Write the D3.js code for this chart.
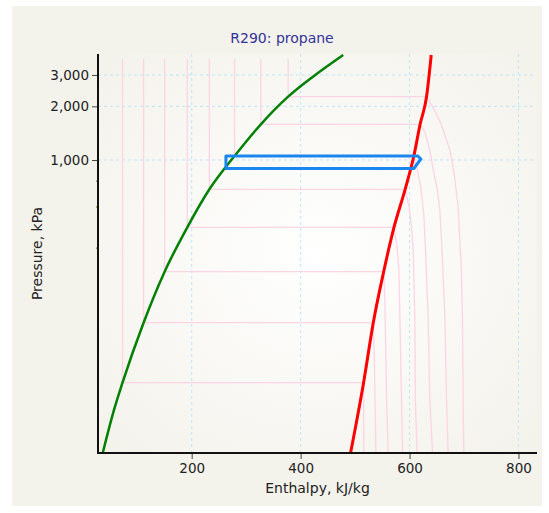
<!DOCTYPE html>
<html>
<head>
<meta charset="utf-8">
<script src="https://cdn.jsdelivr.net/npm/d3@7"></script>
<style>
  body { margin: 0; background: #fff; }
  svg { font-family: "DejaVu Sans", Verdana, sans-serif; }
</style>
</head>
<body>
<svg id="chart" width="549" height="513"></svg>
<script>
// saturated liquid line (enthalpy kJ/kg, pressure kPa)
const liquidH = [36.7, 57.4, 73.0, 111.7, 150.3, 191.9, 232.5, 278.7, 327.0, 377.1, 424.4, 478.2];
const liquidP = [22.7, 39.6, 56.3, 122.2, 236.2, 419.0, 684.9, 1053, 1586, 2266, 2960, 3883];

// saturated vapour line
const vaporH = [491.7, 515.6, 533.4, 552.5, 571.4, 591.9, 607.9, 619.4, 631.2, 639.8];
const vaporP = [22.7, 56.3, 122.2, 236.2, 419.0, 684.9, 1053, 1586, 2266, 3883];

// refrigeration cycle
const cycleH = [262.9, 615.2, 620.7, 607.9, 262.9];
const cycleP = [1053, 1053, 1013, 896, 896];

// isotherms: liquid part, saturation pressure, superheated part
const isoTopP = 3700;
const isoLiqH = [73.0, 111.7, 150.3, 191.9, 232.5, 278.7, 327.0, 377.1];
const isoSatP = [56.3, 122.2, 236.2, 419.0, 684.9, 1053, 1586, 2266];
const superH = [
  [515.6, 516.1],
  [533.4, 535.4, 538.2],
  [552.5, 554.7, 557.8, 560.7],
  [571.4, 576.7, 580.4, 582.2, 585.3, 587.2],
  [591.9, 598.7, 603.3, 606.6, 609.7, 610.6, 614.0],
  [607.9, 615.2, 620.7, 626.2, 629.0, 634.1, 637.2, 642.2],
  [619.4, 628.1, 637.2, 644.6, 651.0, 655.6, 658.7, 662.0, 664.8, 667.9, 670.8],
  [631.2, 642.7, 657.4, 667.9, 673.9, 682.2, 689.2, 692.3, 695.0, 697.2, 698.3, 699.6]
];
const superP = [
  [56.3, 22.7],
  [122.2, 75.5, 22.7],
  [236.2, 163.8, 45, 22.7],
  [419.0, 333.4, 241.3, 132, 45, 22.7],
  [684.9, 559.2, 431.7, 312.6, 132, 45, 22.7],
  [1053, 856.3, 696.5, 491.3, 333.4, 132, 45, 22.7],
  [1586, 1436, 1138, 845.5, 678.7, 524.1, 355.7, 212.1, 132, 45, 22.7],
  [2266, 1991, 1613, 1295, 1138, 823.8, 547, 355.7, 241.3, 132, 45, 22.7]
];

const xTicks = [200, 400, 600, 800];
const xMinorTicks = [50, 100, 150, 250, 300, 350, 450, 500, 550, 650, 700, 750];
const yTicks = [1000, 2000, 3000];
const yMinorTicks = [760, 545, 320];

const title = 'R290: propane';
const xLabel = 'Enthalpy, kJ/kg';
const yLabel = 'Pressure, kPa';

const svg = d3.select('#chart');
const plot = { left: 98, right: 537, top: 54, bottom: 453 };

const xScale = d3.scaleLinear().domain([28, 834]).range([plot.left, plot.right]);
const yScale = d3.scaleLog().domain([22.7, 3933]).range([plot.bottom, plot.top]);

const defs = svg.append('defs');
const grad = defs.append('radialGradient')
  .attr('id', 'plotbg')
  .attr('cx', '50%').attr('cy', '50%').attr('r', '70%');
grad.append('stop').attr('offset', '0%').attr('stop-color', '#ffffff');
grad.append('stop').attr('offset', '100%').attr('stop-color', '#f3f2eb');

svg.append('rect')
  .attr('x', 12).attr('y', 6)
  .attr('width', 530).attr('height', 500)
  .attr('fill', '#f3f2eb');

svg.append('rect')
  .attr('x', plot.left).attr('y', plot.top)
  .attr('width', plot.right - plot.left).attr('height', plot.bottom - plot.top)
  .attr('fill', 'url(#plotbg)');

// grid
const gridG = svg.append('g')
  .attr('stroke', '#bfe6f8')
  .attr('stroke-dasharray', '3,3')
  .attr('stroke-width', 1);
gridG.selectAll('.vx').data(xTicks).enter().append('line')
  .attr('x1', d => xScale(d)).attr('x2', d => xScale(d))
  .attr('y1', plot.top).attr('y2', plot.bottom);
gridG.selectAll('.hy').data(yTicks).enter().append('line')
  .attr('x1', plot.left).attr('x2', plot.right - 2)
  .attr('y1', d => yScale(d)).attr('y2', d => yScale(d));

// isotherms
const line = d3.line()
  .x(d => xScale(d[0]))
  .y(d => yScale(d[1]));

const isotherms = isoLiqH.map((h, i) => {
  const pts = [[h, isoTopP], [h, isoSatP[i]]];
  superH[i].forEach((sh, j) => pts.push([sh, superP[i][j]]));
  return pts;
});

svg.append('g').selectAll('path').data(isotherms).enter().append('path')
  .attr('d', line)
  .attr('fill', 'none')
  .attr('stroke', '#fcd4e4')
  .attr('stroke-width', 1.3);

// saturation lines
const smooth = d3.line()
  .x(d => xScale(d[0]))
  .y(d => yScale(d[1]))
  .curve(d3.curveMonotoneX);

svg.append('path')
  .datum(liquidH.map((h, i) => [h, liquidP[i]]))
  .attr('d', smooth)
  .attr('fill', 'none')
  .attr('stroke', '#008000')
  .attr('stroke-width', 2.5);

svg.append('path')
  .datum(vaporH.map((h, i) => [h, vaporP[i]]))
  .attr('d', smooth)
  .attr('fill', 'none')
  .attr('stroke', '#ff0000')
  .attr('stroke-width', 3);

// cycle
svg.append('path')
  .datum(cycleH.map((h, i) => [h, cycleP[i]]))
  .attr('d', d => line(d) + 'Z')
  .attr('fill', 'none')
  .attr('stroke', '#1a86f0')
  .attr('stroke-width', 3)
  .attr('stroke-linejoin', 'round');

// axes
const xAxisG = svg.append('g').attr('transform', `translate(0,${plot.bottom})`);
xAxisG.call(d3.axisBottom(xScale).tickValues(xMinorTicks).tickSize(4).tickSizeOuter(0).tickFormat(''));
xAxisG.call(d3.axisBottom(xScale).tickValues(xTicks).tickSize(6).tickSizeOuter(0).tickPadding(4).tickFormat(d3.format('d')));
xAxisG.selectAll('.domain').remove();
xAxisG.selectAll('line').attr('stroke', '#444');
xAxisG.selectAll('text')
  .attr('font-size', '13.5px')
  .attr('font-family', '"DejaVu Sans", Verdana, sans-serif')
  .attr('fill', '#222');

const yAxisG = svg.append('g').attr('transform', `translate(${plot.left},0)`);
yAxisG.call(d3.axisLeft(yScale).tickValues(yTicks).tickSize(6).tickSizeOuter(0).tickPadding(3).tickFormat(d3.format(',')));
yAxisG.selectAll('.domain').remove();
yAxisG.selectAll('line').attr('stroke', '#444');
yAxisG.selectAll('text')
  .attr('font-size', '13.5px')
  .attr('font-family', '"DejaVu Sans", Verdana, sans-serif')
  .attr('fill', '#222');

svg.append('g').selectAll('line').data(yMinorTicks).enter().append('line')
  .attr('x1', plot.left - 2).attr('x2', plot.left + 1)
  .attr('y1', d => yScale(d)).attr('y2', d => yScale(d))
  .attr('stroke', '#a0a020')
  .attr('stroke-width', 1.5);

svg.append('line')
  .attr('x1', plot.left).attr('x2', plot.left)
  .attr('y1', plot.top).attr('y2', plot.bottom + 1)
  .attr('stroke', '#111').attr('stroke-width', 2);
svg.append('line')
  .attr('x1', plot.left - 1).attr('x2', plot.right)
  .attr('y1', plot.bottom).attr('y2', plot.bottom)
  .attr('stroke', '#111').attr('stroke-width', 2);

// labels
svg.append('text')
  .attr('x', 282).attr('y', 43)
  .attr('text-anchor', 'middle')
  .attr('font-size', '14px')
  .attr('fill', '#333399')
  .text(title);

svg.append('text')
  .attr('x', (plot.left + plot.right) / 2).attr('y', 492.5)
  .attr('text-anchor', 'middle')
  .attr('font-size', '14px')
  .attr('fill', '#222')
  .text(xLabel);

svg.append('text')
  .attr('transform', `translate(41.5,${(plot.top + plot.bottom) / 2}) rotate(-90)`)
  .attr('text-anchor', 'middle')
  .attr('font-size', '14px')
  .attr('fill', '#222')
  .text(yLabel);
</script>
</body>
</html>
